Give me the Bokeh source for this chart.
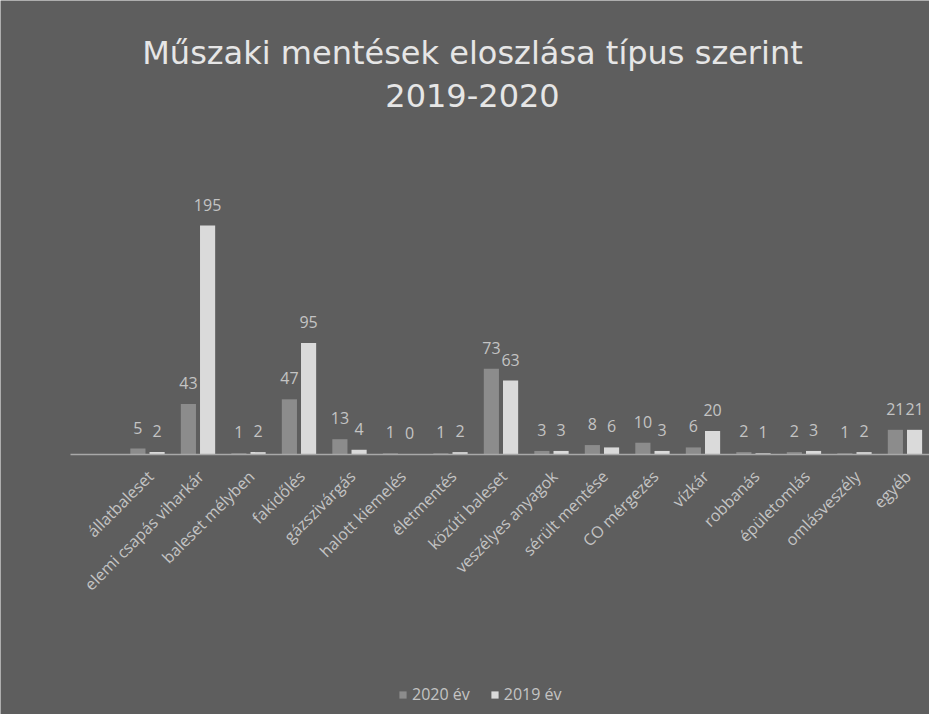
import math
from bokeh.plotting import figure
from bokeh.models import ColumnDataSource, Label, Range1d
from bokeh.transform import dodge
from bokeh.core.properties import value
from bokeh.embed import file_html
from bokeh.resources import INLINE

# ---- data ----
categories = ["állatbaleset", "elemi csapás viharkár", "baleset mélyben", "fakidőlés",
              "gázszivárgás", "halott kiemelés", "életmentés", "közúti baleset",
              "veszélyes anyagok", "sérült mentése", "CO mérgezés", "vízkár",
              "robbanás", "épületomlás", "omlásveszély", "egyéb"]
values_2020 = [5, 43, 1, 47, 13, 1, 1, 73, 3, 8, 10, 6, 2, 2, 1, 21]
values_2019 = [2, 195, 2, 95, 4, 0, 2, 63, 3, 6, 3, 20, 1, 3, 2, 21]
series_names = ["2020 év", "2019 év"]
title_lines = ["Műszaki mentések eloszlása típus szerint", "2019-2020"]

# ---- style ----
BG = "#5e5e5e"
C2020 = "#8c8c8c"
C2019 = "#dadada"
TXT = "#c4c4c4"
FONT = "Open Sans"
TFONT = "DejaVu Sans"
AXIS_PAD = 1.525          # category-axis overhang beyond first/last group

idx = list(range(len(categories)))
src = ColumnDataSource(dict(
    idx=idx, cat=categories, base=[0] * len(categories),
    v2020=values_2020, v2019=values_2019,
    t2020=[str(v) for v in values_2020], t2019=[str(v) for v in values_2019],
))

# plot frame fills the figure; the value 0 sits on the category baseline
p = figure(width=929, height=714, output_backend="svg", toolbar_location=None,
           x_range=Range1d(-2.911, 15.486), y_range=Range1d(-221.5, 386.7),
           x_axis_location=None, y_axis_location=None,
           min_border_left=0, min_border_right=0, min_border_top=0, min_border_bottom=0)
p.background_fill_color = BG
p.border_fill_color = BG
p.outline_line_color = None
p.grid.visible = False

p.vbar(x=dodge("idx", -0.19), top="v2020", bottom=0, width=0.3, source=src,
       fill_color=C2020, line_color=None, legend_label=series_names[0])
p.vbar(x=dodge("idx", 0.19), top="v2019", bottom=0, width=0.3, source=src,
       fill_color=C2019, line_color=None, legend_label=series_names[1])

# category axis line
p.segment(x0=[idx[0] - AXIS_PAD], x1=[idx[-1] + AXIS_PAD - 0.08], y0=[0], y1=[0],
          line_color="#a8a8a8", line_width=1.5)

# value labels
for col, off in (("2020", -0.19), ("2019", 0.19)):
    p.text(x=dodge("idx", off), y="v" + col, text="t" + col, source=src,
           text_align="center", text_baseline="middle", y_offset=-21,
           text_font=value(FONT), text_font_size="16px", text_color=TXT)

# category labels (rotated 45°)
p.text(x="idx", y="base", text="cat", source=src, angle=math.pi / 4,
       text_align="right", text_baseline="middle", x_offset=3, y_offset=19,
       text_font=value(FONT), text_font_size="16px", text_color=TXT)

for line, y in zip(title_lines, (662, 619)):
    p.add_layout(Label(x=472, y=y, x_units="screen", y_units="screen", text=line,
                       text_align="center", text_baseline="alphabetic",
                       text_font=TFONT, text_font_size="32px", text_color="#e6e6e6"))

lg = p.legend[0]
lg.location = (398, 9)
lg.orientation = "horizontal"
lg.background_fill_alpha = 0
lg.border_line_color = None
lg.padding = 0
lg.margin = 0
lg.spacing = 20
lg.glyph_width = 9
lg.glyph_height = 9
lg.label_standoff = 5
lg.label_text_font = FONT
lg.label_text_font_size = "16px"
lg.label_text_color = TXT

open("out.html", "w").write(file_html(p, INLINE))
